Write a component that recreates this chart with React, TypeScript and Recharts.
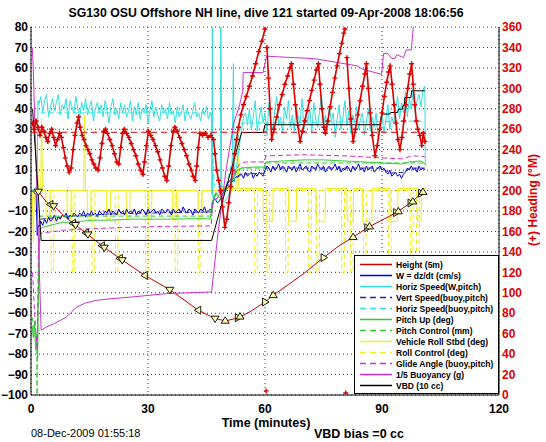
import React from "react";
import { ComposedChart, Line, XAxis, YAxis, CartesianGrid } from "recharts";

type Pt = [number, number | null];

const FONT = "'Liberation Sans', Arial, Helvetica, sans-serif";

const X_TICKS = [0, 30, 60, 90, 120];
const LEFT_TICKS = [-100, -90, -80, -70, -60, -50, -40, -30, -20, -10, 0, 10, 20, 30, 40, 50, 60, 70, 80];
const RIGHT_TICKS = [0, 20, 40, 60, 80, 100, 120, 140, 160, 180, 200, 220, 240, 260, 280, 300, 320, 340, 360];

// depth / 5 (m)
const heightPts: Pt[] = [
  [0.3, 0], [1.9, -0.5], [4, -5.7], [6.2, -8.1], [8, -11.5], [10.8, -16], [14.3, -21], [18.3, -27.2],
  [22.8, -33.2], [29.2, -41.5], [35.6, -48.5], [42.9, -58.5], [46, -61.5], [48, -63], [50, -63.7],
  [52, -62.8], [53.5, -61.8], [56, -59.5], [60, -54.5], [62.1, -51.2], [66, -46], [70, -40.5],
  [75, -32.8], [79, -27], [82.6, -22.8], [86.5, -17.9], [90, -14.5], [93.8, -10.6], [97.6, -5.7], [100.4, -0.8],
];

// guidance / control markers along the depth trace
const gcMarks: Pt[] = [
  [1.9, -0.5], [5, -6.8], [5.8, -7.6], [10.8, -16], [11.4, -16.8], [14.1, -20.7], [14.6, -21.4],
  [18.2, -27], [18.8, -27.9], [22.8, -33.2], [23.4, -34], [29.2, -41.5], [35.6, -48.5], [42.9, -58.5],
  [47.2, -62.6], [49.8, -63.7], [53, -62.2], [53.6, -61.7], [60, -54.5], [62.1, -51.2], [75, -32.8],
  [82.6, -22.8], [86.2, -18.2], [86.8, -17.6], [93.6, -10.8], [94.2, -10.2], [97.3, -6.1], [97.9, -5.4],
  [100, -1.3], [100.5, -0.7],
];

// W = dz/dt, sampled every 0.5 min
const wStart: Pt[] = [[0.3, 0], [1.3, -2], [1.6, -22], [1.8, -17]];
const wDescent = [
  -18, -15, -17, -14, -16, -13, -15, -14, -12, -15,
  -13, -14, -12, -13, -11, -14, -12, -13, -11, -12,
  -13, -11, -12, -10, -13, -11, -12, -10, -12, -11,
  -13, -10, -11, -12, -10, -11, -9, -12, -10, -11,
  -12, -9, -11, -10, -12, -9, -11, -10, -11, -9,
  -12, -10, -11, -9, -10, -12, -9, -11, -10, -9,
  -11, -10, -12, -9, -10, -11, -9, -10, -12, -9,
  -11, -10, -9, -11, -8, -10, -11, -9, -10, -12,
  -9, -10, -11, -9, -10, -8, -11, -10, -9,
];
const wTurn: Pt[] = [
  [46.3, -10], [46.6, -5], [47.2, -4], [47.8, -6], [48.4, -5], [49, -2], [49.6, 0], [50.3, 3],
  [51, 5], [52, 6], [53, 7], [53.5, 8],
];
const wAscent = [
  8, 6, 9, 7, 8, 9, 6, 8, 7, 9, 8, 7,
  10, 12, 11, 9, 12, 10, 11, 13, 10, 12, 11, 9, 12, 11, 10, 12, 9, 11, 13, 10,
  11, 12, 10, 9, 12, 11, 10, 13, 11, 10, 12, 9, 11, 12, 10, 11, 13, 10, 12, 9,
  11, 10, 12, 11, 9, 12, 10, 11, 13, 10, 11, 9, 12, 10, 11, 12, 9, 10, 11, 12, 10, 11,
  9, 8, 10, 7, 8, 9, 7, 8, 6, 8,
  9, 11, 10, 12, 10, 11, 9, 12, 10, 11, 10,
];

// horizontal speed from W and pitch, sampled every 0.5 min
const hsStart: Pt[] = [[0.3, 0], [1.5, 2], [1.8, 44]];
const hsDescent = [
  42, 46, 38, 44, 47, 36, 41, 45, 39, 43,
  47, 37, 42, 40, 45, 35, 44, 41, 38, 46,
  40, 36, 43, 39, 45, 37, 41, 44, 34, 40,
  43, 38, 42, 36, 44, 39, 33, 41, 45, 37,
  40, 35, 43, 38, 42, 36, 39, 44, 34, 41,
  37, 43, 35, 40, 38, 42, 33, 39, 44, 36,
  41, 37, 34, 42, 38, 40, 35, 43, 37, 39,
  33, 41, 36, 38, 42, 34, 40, 37, 35, 39,
  43, 36, 38, 34, 40, 37, 41, 35, 38,
];
const hsTurn: Pt[] = [
  [46.3, 36], [46.4, -2], [46.5, 95], [46.6, -3], [47.5, -5], [48.5, -1], [48.7, 95], [48.9, -3],
  [49.5, -6], [50.5, -3], [51.5, 2], [51.9, 62], [52.1, 4], [53, 16], [54, 30], [54.5, 36],
];
const hsAscent = [
  38, 32, 40, 30, 36, 44, 29, 35, 41, 33,
  38, 27, 43, 34, 30, 39, 46, 32, 36, 28,
  41, 35, 44, 31, 37, 29, 42, 36, 33, 45,
  30, 38, 34, 40, 28, 43, 35, 31, 39, 47,
  33, 37, 29, 41, 34, 38, 26, 35, 42, 30,
  36, 44, 32, 39, 28, 37, 33, 41, 30, 35,
  38, 27, 34, 40, 29, 36, 31, 38, 25, 33,
  37, 28, 35, 42, 30, 36, 33, 40, 46, 35,
  43, 38, 48, 36, 45, 40, 50, 38, 44, 47,
  41, 49,
];
const hsEnd: Pt[] = [[101, 51], [101.1, 12]];

const vertBuoyPts: Pt[] = [
  [2.5, -14], [10, -12.5], [20, -11.5], [30, -11], [46.2, -10.5], [47, -3], [50, 2], [54, 8],
  [59.8, 8.5], [60.2, 11], [90, 11], [92, 8.5], [96, 9], [97, 11], [101, 11],
];
const horizBuoyPts: Pt[] = [[2.5, 38], [46.2, 38], [47, 2], [50, 2], [54, 33], [101, 34]];

const pitchPts: Pt[] = [
  [0.3, -66], [0.6, -72], [0.9, -64], [1.2, -78], [1.5, -70], [1.7, -82], [2, -40], [2.3, -19],
  [3, -18], [4, -17.5], [6, -16.5], [8, -15.5], [10, -15.5], [13, -15], [16, -14.5], [20, -14.5],
  [25, -14], [30, -14], [35, -14], [40, -13.8], [46, -13.8], [46.4, -6], [47, -3], [47.5, -1],
  [48, -3], [48.7, -4], [49.3, -2], [50, 0], [51, 3], [52, 7], [53, 10], [54, 11], [57, 11.5],
  [59.8, 11.5], [60.2, 14], [65, 14.5], [70, 15], [75, 15], [80, 14.5], [85, 14], [90, 13.5],
  [95, 13], [97, 14], [100, 14.5], [101, 13],
];
const pitchCtlPts: Pt[] = [
  [0.3, -62], [1, -70], [1.5, -76], [1.55, -100], [1.6, -76], [2.2, -12.5], [46.3, -12.5], [47, -2],
  [50, 0], [53, 10], [54, 11], [60, 11], [60.2, 13.5], [101, 13.5],
];

const rollPts: Pt[] = [
  [0.3, 0], [0.6, -25], [0.9, 0], [1.4, 0], [1.6, 22], [1.9, 0], [2.5, 0], [2.7, 35], [3, 0],
  [3.8, 0], [3.9, -14], [4.8, -14], [4.9, 0], [9.2, 0], [9.3, -14], [10.2, -14], [10.3, 0],
  [13.5, 0], [13.7, 37], [14, 0], [14.4, 0], [14.5, -14], [15.3, -14], [15.4, 0],
  [19.3, 0], [19.4, -14], [20.3, -14], [20.4, 0], [24.4, 0], [24.5, -14], [25.3, -14], [25.4, 0],
  [30, 0], [30.1, -14], [30.9, -14], [31, 0], [36.2, 0], [36.3, -14], [37.2, -14], [37.3, 0],
  [42.8, 0], [42.9, -14], [43.8, -14], [43.9, 0], [47, 0], [48, -3], [49, 1], [52.8, 1], [53, 30],
  [53.3, 1], [59.5, 1], [59.6, -15], [62, -15], [62.1, 1], [66, 1], [66.1, -15], [68, -15], [68.1, 1],
  [73, 1], [73.1, -15], [75.4, -15], [75.5, 1], [81, 1], [81.1, -15], [82.6, -15], [82.7, 1],
  [85, 1], [85.1, -15], [87.4, -15], [87.5, 1], [92, 1], [92.1, -15], [94, -15], [94.1, 1],
  [99, 1], [99.1, -15], [100, -15], [100.1, 1], [101, 1],
];
const rollCtlPts: Pt[] = [
  [0.3, 0], [5.1, 0], [5.2, -40], [5.8, -40], [5.9, 0], [10.5, 0], [10.6, -40], [11.2, -40], [11.3, 0],
  [15.6, 0], [15.7, -40], [16.3, -40], [16.4, 0], [21.6, 0], [21.7, -40], [22.3, -40], [22.4, 0],
  [29.3, 0], [29.4, -40], [30, -40], [30.1, 0], [36.9, 0], [37, -40], [37.6, -40], [37.7, 0],
  [42.9, 0], [43, -40], [43.6, -40], [43.7, 0], [57.3, 0], [57.4, -40], [58, -40], [58.1, 0],
  [60.4, 0], [60.5, -40], [61.1, -40], [61.2, 0], [65.2, 0], [65.3, -40], [65.9, -40], [66, 0],
  [71.1, 0], [71.2, -40], [71.8, -40], [71.9, 0], [73.2, 0], [73.3, -40], [73.9, -40], [74, 0],
  [79.6, 0], [79.7, -40], [80.3, -40], [80.4, 0], [81.9, 0], [82, -40], [82.6, -40], [82.7, 0],
  [85.2, 0], [85.3, -40], [85.9, -40], [86, 0], [91.6, 0], [91.7, -40], [92.3, -40], [92.4, 0],
  [97.2, 0], [97.3, -40], [97.9, -40], [98, 0], [98.8, 0], [98.9, -40], [99.5, -40], [99.6, 0], [101, 0],
];

const glidePts: Pt[] = [
  [0.4, -40], [0.8, -55], [1.2, -68], [1.6, -78], [1.9, -30], [2.3, -21], [4, -20.5], [8, -19.5],
  [12, -19], [18, -18.5], [25, -18], [35, -17.5], [46.2, -17.3], [46.6, -6], [48, -3], [50, 2],
  [52, 8], [53.5, 13], [55, 14], [59.8, 14], [60.2, 17], [70, 17.5], [80, 17], [90, 16], [95, 15.5],
  [98, 17], [101, 16.5],
];
const buoyPts: Pt[] = [
  [0.3, 70], [0.5, 64], [2.6, -68.3], [4, -66.7], [6, -65], [9, -62], [11.7, -57], [14, -55],
  [16.8, -53.7], [20, -53], [26.2, -52], [34.8, -50.4], [46.3, -49.6], [48, -20], [50, 10], [52, 33],
  [53.5, 42], [54.3, 48.6], [54.4, 57.7], [59.5, 57.7], [60.4, 65.7], [72.8, 64.5], [83.6, 61],
  [85, 59.4], [89.9, 56.8], [90.4, 67], [91.5, 67], [92.5, 64.5], [93.4, 64.8], [93.8, 66.5],
  [95.5, 65], [96.2, 68.8], [97.5, 68.8], [98.6, 92],
];
const vbdPts: Pt[] = [
  [0.4, 40], [1.8, 0], [2.6, -24.4], [46.3, -24.4], [54, 28.4], [59.6, 28.4], [60, 32.2], [89.5, 32.2],
  [89.9, 37.4], [92, 37.4], [92.2, 38.2], [94, 38.2], [94.2, 39.8], [95.2, 39.8], [95.4, 41.5],
  [95.7, 41.5], [95.9, 45.5], [97.4, 45.5], [97.6, 48.8], [101, 48.8],
];

// heading (deg M), right axis; nulls break the trace where it wraps past 360
const headingPts: Pt[] = [
  [0.3, 266], [0.8, 260], [1.3, 268], [1.8, 262], [2.3, 254], [2.8, 262], [3.3, 258], [3.8, 252],
  [4.3, 248], [4.8, 256], [5.3, 260], [5.8, 252], [6.3, 244], [6.8, 250], [7.3, 256], [7.8, 252],
  [8.3, 242], [8.8, 232], [9.3, 224], [9.8, 218], [10.3, 222], [10.8, 240], [11.3, 254], [11.8, 266],
  [12.2, 272], [12.6, 262], [13.1, 254], [13.6, 250], [14.1, 244], [14.6, 240], [15.1, 236], [15.6, 230],
  [16.1, 226], [16.6, 222], [17.2, 220], [17.7, 232], [18.2, 246], [18.7, 258], [19.1, 260], [19.6, 256],
  [20.2, 250], [20.8, 244], [21.4, 236], [22, 228], [22.5, 226], [23, 242], [23.5, 256], [23.9, 260],
  [24.5, 256], [25.1, 252], [25.7, 246], [26.3, 240], [26.9, 234], [27.5, 226], [28.1, 220], [28.7, 216],
  [29.1, 228], [29.6, 244], [30.1, 258], [30.7, 254], [31.3, 250], [31.9, 244], [32.5, 238], [33.1, 230],
  [33.7, 222], [34.3, 214], [34.8, 210], [35.3, 224], [35.9, 244], [36.5, 258], [36.9, 262], [37.5, 258],
  [38.1, 252], [38.7, 246], [39.3, 240], [39.9, 234], [40.5, 226], [41.1, 220], [41.6, 214], [42.1, 210],
  [42.5, 224], [42.9, 242], [43.3, 256], [44, 254], [44.7, 256], [45.4, 252], [46.1, 254], [46.8, 250],
  [47.2, 236], [47.6, 220], [48.1, 210], [48.6, 200], [49.1, 184], [49.7, 164], [50.2, 172], [50.7, 188],
  [51.2, 204], [51.7, 220], [52.2, 236], [52.7, 250], [53.2, 262], [53.8, 274], [54.5, 284], [55.2, 292],
  [56, 302], [56.8, 312], [57.6, 324], [58.4, 336], [59.2, 346], [60, 358],
  [60.15, null], [60.3, 4], [60.45, null],
  [60.5, 340], [60.9, 310], [61.3, 280], [61.7, 250], [62.3, 260], [63, 272], [63.7, 284], [64.4, 294],
  [65.1, 304], [65.8, 312], [66.4, 320], [66.8, 324], [67.3, 304], [67.8, 284], [68.4, 264], [69, 248],
  [69.6, 258], [70.2, 268], [70.8, 278], [71.4, 288], [72, 298], [72.6, 308], [73.2, 318], [73.7, 324],
  [74.1, 304], [74.6, 280], [75.1, 262], [75.5, 256], [76.1, 268], [76.7, 282], [77.3, 296], [77.9, 310],
  [78.5, 322], [79.1, 334], [79.7, 344], [80.2, 354], [80.5, 358],
  [80.6, null], [80.7, 2], [80.8, null],
  [81, 330], [81.5, 300], [82, 270], [82.6, 248], [83.2, 260], [83.8, 274], [84.4, 288], [85, 302],
  [85.6, 314], [86, 324], [86.5, 300], [87, 276], [87.5, 254], [88.2, 234], [88.8, 244], [89.4, 260],
  [90, 276], [90.6, 292], [91.2, 306], [91.7, 316], [92.1, 322], [92.6, 304], [93.1, 284], [93.6, 266],
  [94.1, 250], [94.6, 240], [95.1, 252], [95.6, 268], [96.1, 284], [96.6, 300], [97.1, 314], [97.6, 324],
  [98, 304], [98.4, 284], [98.8, 268], [99.2, 260], [99.7, 254], [100.2, 244], [100.6, 256], [101, 248],
];
const headingDesired: Pt[] = [[0, 257], [101, 257]];

const sampled = (start: number, step: number, vals: number[]): Pt[] =>
  vals.map((v, i) => [start + i * step, v]);
const rows = (pts: Pt[]) => pts.map(([t, v]) => ({ t, v }));

const wPts = [...wStart, ...sampled(2, 0.5, wDescent), ...wTurn, ...sampled(54, 0.5, wAscent)];
const hsPts = [...hsStart, ...sampled(2, 0.5, hsDescent), ...hsTurn, ...sampled(55, 0.5, hsAscent), ...hsEnd];

const RED = "#dd0000";
const BLUE = "#0000e0";
const CYAN = "#30e0e0";
const GREEN = "#30cc30";
const YELLOW = "#eeee22";
const MAGENTA = "#cc30cc";
const DASH = "5 3";

const series = [
  { name: "Height (5m)", pts: heightPts, color: "#cc0000" },
  { name: "W = dz/dt (cm/s)", pts: wPts, color: BLUE },
  { name: "Horiz Speed(W,pitch)", pts: hsPts, color: CYAN },
  { name: "Vert Speed(buoy,pitch)", pts: vertBuoyPts, color: "#2020a0", dash: DASH },
  { name: "Horiz Speed(buoy,pitch)", pts: horizBuoyPts, color: CYAN, dash: DASH },
  { name: "Pitch Up (deg)", pts: pitchPts, color: GREEN },
  { name: "Pitch Control (mm)", pts: pitchCtlPts, color: GREEN, dash: DASH },
  { name: "Vehicle Roll Stbd (deg)", pts: rollPts, color: YELLOW },
  { name: "Roll Control (deg)", pts: rollCtlPts, color: YELLOW, dash: DASH },
  { name: "Glide Angle (buoy,pitch)", pts: glidePts, color: MAGENTA, dash: DASH },
  { name: "1/5 Buoyancy (g)", pts: buoyPts, color: MAGENTA },
  { name: "VBD (10 cc)", pts: vbdPts, color: "#000000" },
];

// draw order: roll traces underneath, like the original
const drawOrder = [7, 8, 0, 1, 2, 3, 4, 5, 6, 9, 10, 11];

const PlusDot = (props: any) => {
  const { cx, cy, index } = props;
  if (cx == null || cy == null) return <g key={`p${index}`} />;
  return (
    <path key={`p${index}`} d={`M${cx - 2.5},${cy}h5M${cx},${cy - 2.5}v5`} stroke={RED} strokeWidth={1.4} fill="none" />
  );
};

const TriDot = (props: any) => {
  const { cx, cy, index, payload } = props;
  if (cx == null || cy == null) return <g key={`m${index}`} />;
  const s = 4;
  const k = s * 0.6;
  let pts: string;
  if (payload.t < 49) {
    pts = index % 2
      ? `${cx + k},${cy - s} ${cx + k},${cy + s} ${cx - s},${cy}`
      : `${cx - s},${cy - k} ${cx + s},${cy - k} ${cx},${cy + s}`;
  } else if (payload.t < 51) {
    pts = `${cx - s},${cy + k} ${cx + s},${cy + k} ${cx},${cy - s}`;
  } else {
    pts = index % 2
      ? `${cx - s},${cy + k} ${cx + s},${cy + k} ${cx},${cy - s}`
      : `${cx - k},${cy - s} ${cx - k},${cy + s} ${cx + s},${cy}`;
  }
  return <polygon key={`m${index}`} points={pts} fill="#ffffb0" stroke="#000" strokeWidth={0.9} />;
};

const minus = (v: number) => String(v).replace("-", "\u2212");

const tickFont = { fontFamily: FONT, fontSize: 12, fontWeight: 700 };

export default function App() {
  return (
    <div style={{ position: "absolute", left: 0, top: 0, width: 546, height: 442, background: "#fff", fontFamily: FONT }}>
      <ComposedChart width={546} height={442} margin={{ top: 27, right: 0, bottom: 27, left: 0 }}>
        <CartesianGrid
          yAxisId="left"
          stroke="#333"
          strokeDasharray="1 3"
          horizontalValues={LEFT_TICKS}
          verticalValues={X_TICKS}
        />
        <XAxis
          dataKey="t"
          type="number"
          domain={[0, 120]}
          ticks={X_TICKS}
          allowDataOverflow
          height={20}
          tickLine={false}
          tickSize={0}
          tickMargin={9}
          axisLine={{ stroke: "#000" }}
          tick={{ ...tickFont, fill: "#000" }}
        />
        <XAxis
          xAxisId="top"
          orientation="top"
          dataKey="t"
          type="number"
          domain={[0, 120]}
          height={0}
          tick={false}
          tickLine={false}
          axisLine={{ stroke: "#000" }}
        />
        <YAxis
          yAxisId="left"
          type="number"
          domain={[-100, 80]}
          ticks={LEFT_TICKS}
          allowDataOverflow
          width={31}
          tickLine={false}
          tickSize={0}
          tickMargin={3}
          interval={0}
          tickFormatter={minus}
          axisLine={{ stroke: "#000" }}
          tick={{ ...tickFont, fill: "#000" }}
        />
        <YAxis
          yAxisId="right"
          orientation="right"
          type="number"
          domain={[0, 360]}
          ticks={RIGHT_TICKS}
          allowDataOverflow
          width={47}
          tickLine={false}
          tickSize={0}
          tickMargin={3}
          interval={0}
          axisLine={{ stroke: "#000" }}
          tick={{ ...tickFont, fill: RED }}
        />
        {drawOrder.map((i) => {
          const s = series[i];
          return (
            <Line
              key={s.name}
              yAxisId="left"
              data={rows(s.pts)}
              dataKey="v"
              type="linear"
              stroke={s.color}
              strokeWidth={1}
              strokeDasharray={s.dash}
              dot={false}
              activeDot={false}
              isAnimationActive={false}
            />
          );
        })}
        <Line
          yAxisId="right"
          data={rows(headingDesired)}
          dataKey="v"
          stroke={RED}
          strokeWidth={1}
          strokeDasharray="6 4"
          dot={false}
          activeDot={false}
          isAnimationActive={false}
        />
        <Line
          yAxisId="right"
          data={rows(headingPts)}
          dataKey="v"
          stroke={RED}
          strokeWidth={1.6}
          connectNulls={false}
          dot={PlusDot}
          activeDot={false}
          isAnimationActive={false}
        />
        <Line
          yAxisId="left"
          data={rows(gcMarks)}
          dataKey="v"
          stroke="none"
          dot={TriDot}
          activeDot={false}
          isAnimationActive={false}
        />
      </ComposedChart>

      <div style={{ position: "absolute", left: 0, top: 6, width: 532, textAlign: "center", fontSize: 12.3, fontWeight: 700, color: "#000", whiteSpace: "nowrap" }}>
        SG130 OSU Offshore NH line, dive 121 started 09-Apr-2008 18:06:56
      </div>
      <div style={{ position: "absolute", left: 0, top: 416, width: 532, textAlign: "center", fontSize: 12.5, fontWeight: 700, color: "#000" }}>
        Time (minutes)
      </div>
      <div style={{ position: "absolute", left: 31, top: 427, fontSize: 11, color: "#000", whiteSpace: "nowrap" }}>
        08-Dec-2009 01:55:18
      </div>
      <div style={{ position: "absolute", left: 314, top: 427, fontSize: 12.5, fontWeight: 700, color: "#000", whiteSpace: "nowrap" }}>
        VBD bias =0 cc
      </div>
      <div
        style={{
          position: "absolute",
          left: 533,
          top: 200,
          transform: "translate(-50%, -50%) rotate(-90deg)",
          fontSize: 12,
          fontWeight: 700,
          color: RED,
          whiteSpace: "nowrap",
        }}
      >
        (+) Heading (°M)
      </div>

      <div
        style={{
          position: "absolute",
          left: 354,
          top: 255,
          width: 143,
          height: 134,
          border: "1px solid #000",
          background: "#fff",
          paddingTop: 3,
          boxSizing: "content-box",
        }}
      >
        {series.map((s) => (
          <div key={s.name} style={{ display: "flex", alignItems: "center", height: 11 }}>
            <svg width={34} height={11} style={{ marginLeft: 5, flex: "none" }}>
              <line x1={0} y1={5.5} x2={32} y2={5.5} stroke={s.color} strokeWidth={1.5} strokeDasharray={s.dash ? "6 4" : undefined} />
            </svg>
            <span style={{ marginLeft: 2, fontSize: 8.5, fontWeight: 700, color: "#000", whiteSpace: "nowrap" }}>{s.name}</span>
          </div>
        ))}
      </div>
    </div>
  );
}
